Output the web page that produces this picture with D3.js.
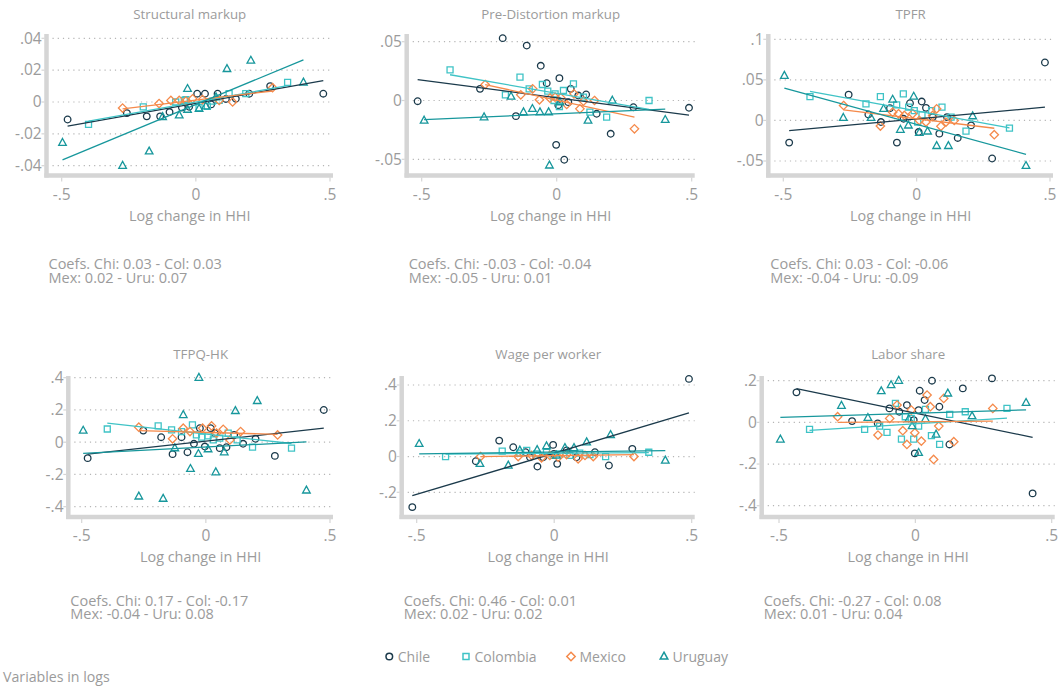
<!DOCTYPE html>
<html>
<head>
<meta charset="utf-8">
<script src="https://cdn.jsdelivr.net/npm/d3@7"></script>
<style>
  body { margin: 0; background: #fff; }
  svg { display: block; }
  text { font-family: "Open Sans", Lato, sans-serif; fill: #9b9b9b; }
</style>
</head>
<body>
<svg id="chart" width="1058" height="689"></svg>
<script>
// ---- Data -----------------------------------------------------------------
const countries = ["Chile", "Colombia", "Mexico", "Uruguay"];
const countryCodes = ["Chi", "Col", "Mex", "Uru"];
const panelTitles = ["Structural markup", "Pre-Distortion markup", "TPFR",
                     "TFPQ-HK", "Wage per worker", "Labor share"];
const xTicks = [-0.5, 0, 0.5];
const yTicks = [
  [-0.04, -0.02, 0, 0.02, 0.04],
  [-0.05, 0, 0.05],
  [-0.05, 0, 0.05, 0.1],
  [-0.4, -0.2, 0, 0.2, 0.4],
  [-0.2, 0, 0.2, 0.4],
  [-0.4, -0.2, 0, 0.2]
];

// regression slopes (the reported coefficients) and intercepts, one per panel
const coefChile    = [0.03, -0.03,  0.03,  0.17, 0.46, -0.27];
const coefColombia = [0.03, -0.04, -0.06, -0.17, 0.01,  0.08];
const coefMexico   = [0.02, -0.05, -0.04, -0.04, 0.02,  0.01];
const coefUruguay  = [0.07,  0.01, -0.09,  0.08, 0.02,  0.04];
const intChile     = [-0.0008, 0.0023, 0.0019, 0.0065, 0.0185, 0.044];
const intColombia  = [0.0, 0.0061, 0.0117, 0.0506, 0.018, -0.007];
const intMexico    = [0.0012, 0.0003, 0.002, 0.0604, 0.005, 0.003];
const intUruguay   = [-0.0016, -0.0113, -0.0049, -0.030, 0.025, 0.044];

// [log change in HHI, log change in variable]
const smChile = [[-.478,-.011],[-.257,-.007],[-.183,-.009],[-.133,-.009],[-.098,-.0063],[-.052,-.0035],[-.025,-.003],[.005,.0052],[.034,.0052],[.057,-.0015],[.081,.0052],[.112,.0019],[.149,.002],[.199,.0052],[.277,.010],[.475,.0052]];
const smColombia = [[-.40,-.014],[-.196,-.0031],[-.075,0],[-.043,.001],[-.037,.0015],[.012,-.0035],[.043,-.0027],[.062,.0006],[.087,.001],[.124,.0052],[.186,.0052],[.342,.0123]];
const smMexico = [[-.273,-.0038],[-.137,-.001],[-.093,.001],[-.062,.001],[-.037,.0006],[-.012,.002],[.025,.0015],[.087,.001],[.137,0],[.286,.009]];
const smUruguay = [[-.497,-.0256],[-.273,-.040],[-.174,-.031],[-.124,-.0094],[-.062,-.0083],[-.031,.0083],[-.031,-.0048],[.012,-.0042],[.037,-.0027],[.075,.003],[.116,.0208],[.205,.026],[.401,.0123]];

const pdChile = [[-.515,-.0006],[-.284,.0099],[-.20,.053],[-.151,-.0133],[-.111,.0467],[-.059,.0295],[-.037,.0147],[-.002,-.0377],[.006,-.004],[.010,.019],[.028,-.0504],[.043,-.0014],[.052,.0099],[.080,.0042],[.109,.0051],[.148,-.0113],[.200,-.0283],[.284,-.0057],[.490,-.0062]];
const pdColombia = [[-.395,.026],[-.19,.0048],[-.136,.0198],[-.102,.0099],[-.053,.0136],[-.033,.0079],[-.010,0],[-.006,.0057],[.010,-.0051],[.025,.0085],[.062,.0142],[.099,.0028],[.123,-.0099],[.185,-.0142],[.342,0]];
const pdMexico = [[-.265,.0136],[-.133,.0048],[-.089,.0099],[-.064,.0006],[-.025,.002],[-.006,.0028],[.015,.0023],[.037,-.0034],[.064,.0057],[.086,-.0071],[.099,-.0006],[.140,0],[.288,-.0241]];
const pdUruguay = [[-.491,-.017],[-.269,-.0142],[-.169,.0034],[-.123,-.0099],[-.090,-.0071],[-.062,-.0099],[-.030,-.0099],[-.027,-.0552],[.012,-.0014],[.116,-.017],[.206,0],[.402,-.0164]];

const tpfrChile = [[-.478,-.0273],[-.255,.0318],[-.181,.0073],[-.134,-.002],[-.100,.0151],[-.074,-.0273],[-.049,.002],[-.025,.0212],[.0075,-.0143],[.019,.0233],[.035,.0155],[.060,.004],[.085,-.0163],[.114,.0041],[.154,-.0216],[.204,-.0061],[.283,-.0469],[.481,.0714]];
const tpfrColombia = [[-.40,.0294],[-.19,.0204],[-.136,.0294],[-.075,.0192],[-.05,.0327],[-.03,.0163],[-.009,.0122],[.004,-.002],[.02,.0069],[.056,.0122],[.095,.0163],[.129,.0041],[.185,-.0131],[.348,-.0094]];
const tpfrMexico = [[-.274,.0184],[-.136,-.0069],[-.09,.0102],[-.068,.0082],[-.046,.0061],[-.015,.0082],[.01,0],[.035,-.002],[.06,.0061],[.075,.0143],[.091,-.0073],[.11,-.002],[.141,0],[.291,-.0176]];
const tpfrUruguay = [[-.496,.0551],[-.275,.0033],[-.171,.0033],[-.124,.0143],[-.09,.0257],[-.061,-.0114],[-.031,-.0061],[-.011,.0294],[.01,-.0151],[.041,-.0135],[.075,-.0314],[.119,-.0314],[.21,.0053],[.41,-.0559]];

const tfpqChile = [[-.476,-.099],[-.252,.072],[-.18,.031],[-.134,-.074],[-.098,.031],[-.074,-.062],[-.048,-.01],[-.024,.087],[-.004,-.027],[.019,.087],[.036,.056],[.056,-.037],[.083,-.031],[.114,.045],[.15,-.01],[.2,.021],[.278,-.085],[.475,.2]];
const tfpqColombia = [[-.397,.082],[-.192,.101],[-.138,.076],[-.098,.066],[-.054,.107],[-.038,.045],[-.017,.031],[.009,.039],[.03,.014],[.056,.025],[.09,.056],[.126,.014],[.188,-.031],[.345,-.037]];
const tfpqMexico = [[-.27,.093],[-.134,.021],[-.091,.087],[-.064,.066],[-.013,.087],[.023,.101],[.043,.056],[.07,.08],[.097,.014],[.14,.066],[.289,.045]];
const tfpqUruguay = [[-.494,.072],[-.27,-.336],[-.172,-.35],[-.125,-.037],[-.091,.169],[-.062,-.165],[-.03,-.072],[-.028,.4],[.009,-.043],[.04,-.186],[.074,-.062],[.119,.194],[.207,.256],[.405,-.299]];

const wageChile = [[-.516,-.283],[-.285,-.026],[-.2,.089],[-.149,.052],[-.104,.024],[-.088,-.004],[-.061,-.056],[-.04,-.004],[-.004,.065],[-.001,.015],[.011,-.041],[.045,.034],[.081,-.004],[.148,.024],[.199,-.05],[.284,.043],[.49,.434]];
const wageColombia = [[-.395,0],[-.189,.03],[-.125,.019],[-.1,.034],[-.064,.015],[-.028,.024],[-.004,.006],[.021,.015],[.057,.006],[.093,.019],[.13,.011],[.187,0],[.344,.024]];
const wageMexico = [[-.268,0],[-.131,0],[-.082,.006],[-.046,-.007],[-.016,.006],[.015,-.004],[.045,.011],[.087,-.013],[.112,.006],[.142,0],[.29,0]];
const wageUruguay = [[-.491,.071],[-.27,-.041],[-.167,-.05],[-.125,.034],[-.062,.037],[-.028,.058],[.008,.006],[.039,.048],[.072,.048],[.118,.08],[.205,.121],[.404,-.022]];

const laborChile = [[-.436,.144],[-.232,.006],[-.138,-.005],[-.095,.067],[-.059,.051],[-.031,.083],[-.006,.011],[-.002,-.149],[.012,.059],[.016,.152],[.034,.107],[.061,.2],[.088,.075],[.125,-.106],[.174,.163],[.281,.211],[.43,-.341]];
const laborColombia = [[-.388,-.034],[-.186,-.034],[-.131,-.018],[-.104,-.048],[-.073,.091],[-.051,-.08],[-.037,.027],[-.015,.019],[-.006,-.08],[.012,-.018],[.037,.062],[.059,-.064],[.089,-.106],[.126,.038],[.183,.051],[.336,.067]];
const laborMexico = [[-.285,.027],[-.137,-.061],[-.094,.019],[-.067,.083],[-.046,-.04],[-.031,-.106],[-.015,.059],[-.002,-.05],[.022,-.09],[.043,.131],[.055,.075],[.067,-.178],[.086,-.018],[.104,.115],[.141,-.093],[.284,.067]];
const laborUruguay = [[-.495,-.082],[-.271,.08],[-.174,.022],[-.125,.15],[-.089,.179],[-.061,.2],[-.024,.016],[-.012,-.018],[.012,-.146],[.037,.016],[.076,-.058],[.119,.139],[.208,.03],[.406,.094]];

// ---- Styling ----------------------------------------------------------------
const colors = ["#1b3a4b", "#3fc3c6", "#f58a4b", "#17979c"];
const shapes = ["circle", "square", "diamond", "triangle"];

// panel frames: x of the y axis line, pixel of x=-.5 / x=.5, pixel of lowest / highest y tick
const frames = [
  { axisX: 46.5,  xl: 61.7,  xr: 330,    yLo: 165.7, yHi: 38.3,  top: 34,  bottom: 175.5, titleY: 19.3, xtitleY: 221,   noteY: 269.3 },
  { axisX: 406.7, xl: 421.7, xr: 691.7,  yLo: 159.3, yHi: 41.7,  top: 34,  bottom: 175.5, titleY: 19.3, xtitleY: 221,   noteY: 269.3 },
  { axisX: 768.3, xl: 783.3, xr: 1050,   yLo: 161,   yHi: 39.3,  top: 34,  bottom: 175.5, titleY: 19.3, xtitleY: 221,   noteY: 269.3 },
  { axisX: 68.3,  xl: 81.7,  xr: 330,    yLo: 506.7, yHi: 377.7, top: 376, bottom: 517,   titleY: 359,  xtitleY: 561.7, noteY: 605.7 },
  { axisX: 401.7, xl: 416.7, xr: 691.7,  yLo: 492.3, yHi: 385,   top: 376, bottom: 517,   titleY: 359,  xtitleY: 561.7, noteY: 605.7 },
  { axisX: 761.7, xl: 779,   xr: 1051.7, yLo: 505.7, yHi: 380.7, top: 376, bottom: 517,   titleY: 359,  xtitleY: 561.7, noteY: 605.7 }
];

const panelSeries = [
  [smChile, smColombia, smMexico, smUruguay],
  [pdChile, pdColombia, pdMexico, pdUruguay],
  [tpfrChile, tpfrColombia, tpfrMexico, tpfrUruguay],
  [tfpqChile, tfpqColombia, tfpqMexico, tfpqUruguay],
  [wageChile, wageColombia, wageMexico, wageUruguay],
  [laborChile, laborColombia, laborMexico, laborUruguay]
];
const slopes = [coefChile, coefColombia, coefMexico, coefUruguay];
const intercepts = [intChile, intColombia, intMexico, intUruguay];

function markerPath(shape) {
  switch (shape) {
    case "circle":   return "M3.3,0A3.3,3.3 0 1,1 -3.3,0A3.3,3.3 0 1,1 3.3,0Z";
    case "square":   return "M-3,-3H3V3H-3Z";
    case "diamond":  return "M0,-4.2L4.2,0L0,4.2L-4.2,0Z";
    case "triangle": return "M0,-4.3L3.8,2.6H-3.8Z";
  }
}
// Stata-style labels: no leading zero, plain hyphen for negatives
const tickFmt = v => v === 0 ? "0" : String(+v.toFixed(3)).replace("0.", ".");
const coefFmt = v => v.toFixed(2);

const svg = d3.select("#chart");

panelSeries.forEach((series, p) => {
  const f = frames[p];
  const ticks = yTicks[p];
  const x = d3.scaleLinear().domain([-0.5, 0.5]).range([f.xl, f.xr]);
  const y = d3.scaleLinear().domain([ticks[0], ticks[ticks.length - 1]]).range([f.yLo, f.yHi]);
  const g = svg.append("g");
  const rightEnd = f.xr + 3;

  // dotted grid
  g.selectAll("line.grid").data(ticks).join("line")
    .attr("x1", f.axisX + 6).attr("x2", rightEnd)
    .attr("y1", d => y(d)).attr("y2", d => y(d))
    .attr("stroke", "#b5b5b5").attr("stroke-width", 1.2)
    .attr("stroke-dasharray", "1.2 4");

  // axis lines
  g.append("line").attr("x1", f.axisX).attr("x2", f.axisX)
    .attr("y1", f.top).attr("y2", f.bottom + 2)
    .attr("stroke", "#d5d5d5").attr("stroke-width", 4.5);
  g.append("line").attr("x1", f.axisX - 2.2).attr("x2", rightEnd)
    .attr("y1", f.bottom).attr("y2", f.bottom)
    .attr("stroke", "#d5d5d5").attr("stroke-width", 4.5);

  // y ticks + labels
  g.selectAll("line.yt").data(ticks).join("line")
    .attr("x1", f.axisX - 5).attr("x2", f.axisX - 2)
    .attr("y1", d => y(d)).attr("y2", d => y(d))
    .attr("stroke", "#d5d5d5").attr("stroke-width", 1.2);
  g.selectAll("text.yl").data(ticks).join("text")
    .attr("x", f.axisX - 4.8).attr("y", d => y(d) + 5.3)
    .attr("text-anchor", "end").attr("font-size", 15.5)
    .text(tickFmt);

  // x ticks + labels
  g.selectAll("line.xt").data(xTicks).join("line")
    .attr("x1", d => x(d)).attr("x2", d => x(d))
    .attr("y1", f.bottom + 2).attr("y2", f.bottom + 6)
    .attr("stroke", "#d5d5d5").attr("stroke-width", 1.2);
  g.selectAll("text.xl").data(xTicks).join("text")
    .attr("x", d => x(d)).attr("y", f.bottom + 24)
    .attr("text-anchor", "middle").attr("font-size", 15.5)
    .text(tickFmt);

  // titles
  const mid = (f.axisX + rightEnd) / 2;
  g.append("text").attr("x", mid).attr("y", f.titleY)
    .attr("text-anchor", "middle").attr("font-size", 13.3).text(panelTitles[p]);
  g.append("text").attr("x", mid).attr("y", f.xtitleY)
    .attr("text-anchor", "middle").attr("font-size", 14.4).text("Log change in HHI");

  // scatter markers
  series.forEach((pts, c) => {
    g.append("g").selectAll("path").data(pts).join("path")
      .attr("d", markerPath(shapes[c]))
      .attr("transform", d => `translate(${x(d[0])},${y(d[1])})`)
      .attr("fill", "none").attr("stroke", colors[c]).attr("stroke-width", 1.3);
  });

  // fitted lines over each country's x range
  series.forEach((pts, c) => {
    const [lo, hi] = d3.extent(pts, d => d[0]);
    const m = slopes[c][p], b = intercepts[c][p];
    g.append("line")
      .attr("x1", x(lo)).attr("y1", y(b + m * lo))
      .attr("x2", x(hi)).attr("y2", y(b + m * hi))
      .attr("stroke", colors[c]).attr("stroke-width", 1.3);
  });

  // coefficient note
  const note = g.append("text").attr("font-size", 14.5);
  note.append("tspan").attr("x", f.axisX + 2).attr("y", f.noteY)
    .text(`Coefs. ${countryCodes[0]}: ${coefFmt(slopes[0][p])} - ${countryCodes[1]}: ${coefFmt(slopes[1][p])}`);
  note.append("tspan").attr("x", f.axisX + 2).attr("y", f.noteY + 13.4)
    .text(`${countryCodes[2]}: ${coefFmt(slopes[2][p])} - ${countryCodes[3]}: ${coefFmt(slopes[3][p])}`);
});

// legend
const legendX = [389.3, 466, 571, 664];
const legend = svg.append("g");
countries.forEach((name, c) => {
  legend.append("path").attr("d", markerPath(shapes[c]))
    .attr("transform", `translate(${legendX[c]},656.5)`)
    .attr("fill", "none").attr("stroke", colors[c]).attr("stroke-width", 1.5);
  legend.append("text").attr("x", legendX[c] + 8.5).attr("y", 661.5)
    .attr("font-size", 14).text(name);
});

svg.append("text").attr("x", 3).attr("y", 681.5).attr("font-size", 14.2).text("Variables in logs");
</script>
</body>
</html>
